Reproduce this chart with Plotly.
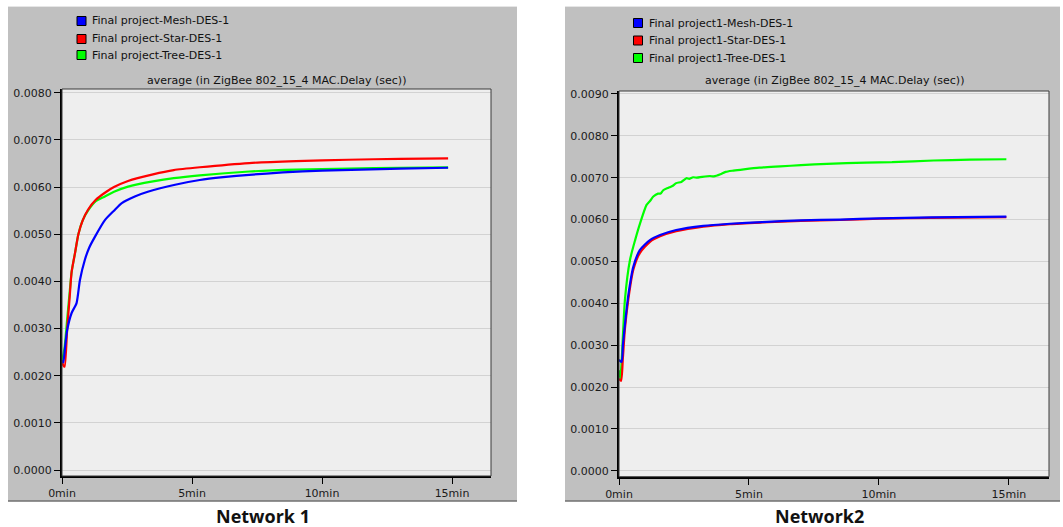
import plotly.graph_objects as go

# ---------------- data: average ZigBee 802_15_4 MAC delay (sec) vs time (min) ----------------
# Network 1
n1_mesh_t = [0, 0.05, 0.12, 0.2, 0.37, 0.56, 0.69, 0.88, 1.05, 1.27, 1.65, 2.0, 2.3, 2.8, 3.3,
             4.35, 5.3, 6.2, 7.2, 8.5, 10, 11.5, 13, 14.85]
n1_mesh_v = [0.00233, 0.00228, 0.00262, 0.00297, 0.00333, 0.00354, 0.00403, 0.00446, 0.00472,
             0.00495, 0.0053, 0.0055, 0.00566, 0.0058, 0.0059, 0.00605, 0.00615, 0.00621,
             0.00626, 0.00631, 0.00635, 0.00637, 0.00639, 0.00641]

n1_star_t = [0, 0.05, 0.1, 0.2, 0.3, 0.37, 0.5, 0.63, 0.8, 1.0, 1.3, 1.65, 2.0, 2.54, 3.5, 4.3,
             5.3, 7.2, 9, 11, 13, 14.85]
n1_star_v = [0.0023, 0.00222, 0.00219, 0.0030, 0.0037, 0.0042, 0.0046, 0.0050, 0.0053, 0.00552,
             0.00573, 0.00588, 0.0060, 0.00613, 0.00627, 0.00636, 0.00642, 0.00651, 0.00655,
             0.00658, 0.0066, 0.00661]

n1_tree_t = [0, 0.1, 0.2, 0.3, 0.37, 0.5, 0.63, 0.8, 1.0, 1.3, 1.65, 2.0, 2.54, 3.5, 4.3, 5.3,
             7.2, 9, 11, 13, 14.85]
n1_tree_v = [0.0023, 0.0026, 0.0032, 0.0038, 0.0042, 0.0046, 0.0050, 0.0053, 0.0055, 0.0057,
             0.0058, 0.0059, 0.00601, 0.00612, 0.00619, 0.00625, 0.00633, 0.00637, 0.00639,
             0.00641, 0.00642]

# Network 2
n2_mesh_t = [0, 0.1, 0.15, 0.23, 0.36, 0.55, 0.8, 1.19, 1.58, 2.2, 3.24, 4.27, 5.5, 7, 8.5, 10,
             12, 14.9]
n2_mesh_v = [0.00265, 0.0026, 0.0030, 0.0035, 0.0042, 0.00487, 0.00527, 0.00551, 0.00563,
             0.00575, 0.00585, 0.0059, 0.00594, 0.00598, 0.0060, 0.00603, 0.00605, 0.00607]

n2_star_t = [0, 0.08, 0.15, 0.23, 0.36, 0.55, 0.8, 1.19, 1.58, 2.2, 3.24, 4.27, 5.5, 7, 8.5, 10,
             12, 14.9]
n2_star_v = [0.0022, 0.00215, 0.0027, 0.0034, 0.0041, 0.0048, 0.0052, 0.00547, 0.0056, 0.00572,
             0.00583, 0.00589, 0.00593, 0.00597, 0.00599, 0.00602, 0.00604, 0.00606]

n2_tree_t = [0, 0.05, 0.1, 0.23, 0.42, 0.62, 0.81, 1.06, 1.2, 1.32, 1.5, 1.6, 1.7, 1.9, 2.05,
             2.2, 2.4, 2.6, 2.7, 2.85, 3.0, 3.2, 3.5, 3.65, 3.9, 4.1, 4.4, 4.8, 5.4, 6.2, 7, 8,
             9.5, 10.5, 12.1, 13.5, 14.9]
n2_tree_v = [0.0024, 0.0022, 0.0026, 0.0041, 0.00503, 0.00551, 0.00591, 0.00635, 0.00645,
             0.00655, 0.00662, 0.00662, 0.0067, 0.00676, 0.0068, 0.00687, 0.0069, 0.00699,
             0.00697, 0.00701, 0.0070, 0.00702, 0.00704, 0.00703, 0.00708, 0.00714, 0.00717,
             0.0072, 0.00724, 0.00727, 0.0073, 0.00733, 0.00736, 0.00737, 0.00741, 0.00743,
             0.00744]

n1_names = ["Final project-Mesh-DES-1", "Final project-Star-DES-1", "Final project-Tree-DES-1"]
n2_names = ["Final project1-Mesh-DES-1", "Final project1-Star-DES-1", "Final project1-Tree-DES-1"]
series_colors = ["#0000FF", "#FF0000", "#00FF00"]
x_tick_vals = [0, 5, 10, 15]
x_tick_text = ["0min", "5min", "10min", "15min"]
n1_y_ticks = [i * 0.001 for i in range(9)]
n2_y_ticks = [i * 0.001 for i in range(10)]
chart_title = "average (in ZigBee 802_15_4 MAC.Delay (sec))"
panel_labels = ["Network 1", "Network2"]

# ---------------- layout geometry (pixels) ----------------
W, H = 1063, 527
FONT = "DejaVu Sans"


def px(x):
    return x / W


def py(y):
    return 1 - y / H


fig = go.Figure()

# draw order: Tree, Star, Mesh (Mesh on top)
for (t, v, c, nm, xa, ya) in [
    (n1_tree_t, n1_tree_v, series_colors[2], n1_names[2], "x", "y"),
    (n1_star_t, n1_star_v, series_colors[1], n1_names[1], "x", "y"),
    (n1_mesh_t, n1_mesh_v, series_colors[0], n1_names[0], "x", "y"),
    (n2_tree_t, n2_tree_v, series_colors[2], n2_names[2], "x2", "y2"),
    (n2_star_t, n2_star_v, series_colors[1], n2_names[1], "x2", "y2"),
    (n2_mesh_t, n2_mesh_v, series_colors[0], n2_names[0], "x2", "y2"),
]:
    fig.add_trace(go.Scatter(x=t, y=v, mode="lines", name=nm, xaxis=xa, yaxis=ya,
                             line=dict(color=c, width=2.2, shape="spline", smoothing=0.6),
                             showlegend=False, hoverinfo="x+y+name"))

# plot areas (pixel boxes)
p1 = dict(x0=62, x1=491, y0=89, y1=476)
p2 = dict(x0=619, x1=1049, y0=91, y1=476.7)

xcommon = dict(tickvals=x_tick_vals, ticktext=x_tick_text, ticks="outside", ticklen=6,
               tickwidth=1, tickcolor="#000", showgrid=False, zeroline=False,
               showline=True, linecolor="#000", linewidth=2, automargin=False,
               tickfont=dict(family=FONT, size=11, color="#1a1a1a"))
ycommon = dict(tickformat=".4f", ticks="outside", ticklen=6, tickwidth=1, tickcolor="#000",
               showgrid=True, gridcolor="#d2d2d2", gridwidth=1, zeroline=False,
               showline=True, linecolor="#000", linewidth=2, automargin=False,
               tickfont=dict(family=FONT, size=11, color="#1a1a1a"))

fig.update_layout(
    width=W, height=H,
    margin=dict(l=0, r=0, t=0, b=0, autoexpand=False),
    paper_bgcolor="white",
    plot_bgcolor="#eeeeee",
    showlegend=False,
    xaxis=dict(domain=[px(p1["x0"]), px(p1["x1"])], range=[0, 16.5], anchor="y", **xcommon),
    yaxis=dict(domain=[py(p1["y1"]), py(p1["y0"])], range=[-0.000127, 0.00808],
               tickvals=n1_y_ticks, anchor="x", **ycommon),
    xaxis2=dict(domain=[px(p2["x0"]), px(p2["x1"])], range=[0, 16.54], anchor="y2", **xcommon),
    yaxis2=dict(domain=[py(p2["y1"]), py(p2["y0"])], range=[-0.00014, 0.00907],
                tickvals=n2_y_ticks, anchor="x2", **ycommon),
)

shapes = []
annotations = []

# gray panels behind each chart
for (gx0, gx1) in [(8, 517), (565, 1060)]:
    shapes.append(dict(type="rect", xref="paper", yref="paper", layer="below",
                       x0=px(gx0), x1=px(gx1), y0=py(501), y1=py(6),
                       fillcolor="#c0c0c0", line=dict(width=0)))
    shapes.append(dict(type="line", xref="paper", yref="paper", layer="below",
                       x0=px(gx0), x1=px(gx1), y0=py(501), y1=py(501),
                       line=dict(color="#707070", width=1.5)))
    shapes.append(dict(type="line", xref="paper", yref="paper", layer="below",
                       x0=px(gx0), x1=px(gx1), y0=py(6.5), y1=py(6.5),
                       line=dict(color="#e6e6e6", width=1)))

# light plot-area backgrounds on top of the gray panels (gridlines stay above)
for p in (p1, p2):
    shapes.append(dict(type="rect", xref="paper", yref="paper", layer="below",
                       x0=px(p["x0"]), x1=px(p["x1"]), y0=py(p["y1"]), y1=py(p["y0"]),
                       fillcolor="#eeeeee", line=dict(width=0)))

# plot frames (top / right edges)
for p in (p1, p2):
    shapes.append(dict(type="rect", xref="paper", yref="paper", layer="above",
                       x0=px(p["x0"]), x1=px(p["x1"]), y0=py(p["y1"]), y1=py(p["y0"]),
                       line=dict(color="#3a3a3a", width=1), fillcolor="rgba(0,0,0,0)"))

# legends
legend_specs = [
    (n1_names, 77, 90, [21, 39, 55]),
    (n2_names, 633.5, 647, [23, 40.5, 58]),
]
for names, sq_x, tx, ys in legend_specs:
    for nm, c, yc in zip(names, series_colors, ys):
        shapes.append(dict(type="rect", xref="paper", yref="paper",
                           x0=px(sq_x), x1=px(sq_x + 9), y0=py(yc + 4.5), y1=py(yc - 4.5),
                           fillcolor=c, line=dict(color="#000", width=1)))
        annotations.append(dict(xref="paper", yref="paper", x=px(tx), y=py(yc),
                                xanchor="left", yanchor="middle", showarrow=False, text=nm,
                                font=dict(family=FONT, size=11, color="#111")))

# chart titles
for p in (p1, p2):
    annotations.append(dict(xref="paper", yref="paper", x=px((p["x0"] + p["x1"]) / 2), y=py(80),
                            xanchor="center", yanchor="middle", showarrow=False,
                            text=chart_title, font=dict(family=FONT, size=11, color="#111")))

# panel captions
for lbl, cx in zip(panel_labels, [263, 819]):
    annotations.append(dict(xref="paper", yref="paper", x=px(cx), y=py(516),
                            xanchor="center", yanchor="middle", showarrow=False,
                            text="<b>%s</b>" % lbl,
                            font=dict(family="Open Sans", size=18, color="#111")))

fig.update_layout(shapes=shapes, annotations=annotations)

fig.write_html("out.html")
